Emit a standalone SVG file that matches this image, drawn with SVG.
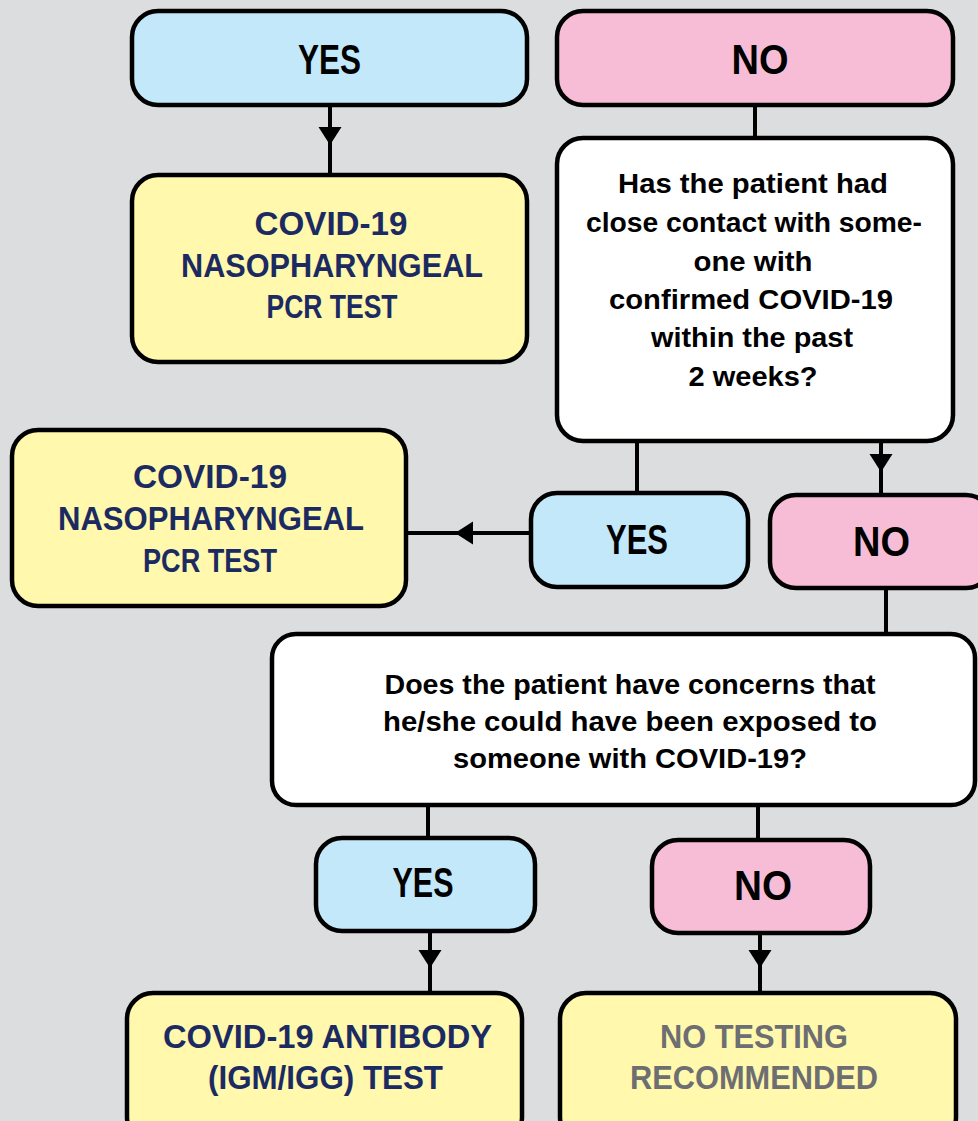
<svg xmlns="http://www.w3.org/2000/svg" width="978" height="1121" viewBox="0 0 978 1121">
<style>
.box{stroke:#000;stroke-width:4.5}
.yes{fill:#c3e8f9}
.no{fill:#f7bdd6}
.res{fill:#fff8ad}
.q{fill:#fff}
.lbl{font-family:"Liberation Sans",Arial,sans-serif;font-weight:bold;font-size:42px;fill:#000;text-anchor:middle}
.qt{font-family:"Liberation Sans",Arial,sans-serif;font-weight:bold;font-size:27px;fill:#000;text-anchor:middle}
.rt{font-family:"Liberation Sans",Arial,sans-serif;font-weight:bold;font-size:33px;fill:#1b2b62;text-anchor:middle}
.gt{fill:#6d6e71}
.ln{stroke:#000;stroke-width:4;fill:none}
</style>
<defs>
<marker id="ah" markerUnits="userSpaceOnUse" markerWidth="20" markerHeight="24" refX="18" refY="12" orient="auto" viewBox="0 0 20 24">
<path d="M0,0.5 L18,12 L0,23.5 z" fill="#000"/>
</marker>
</defs>
<rect width="978" height="1121" fill="#dcdddf"/>

<g id="connectors">
<path class="ln" d="M330,105 L330,145" marker-end="url(#ah)"/>
<path class="ln" d="M330,143 L330,175"/>
<path class="ln" d="M755,105 L755,138"/>
<path class="ln" d="M637,441 L637,493"/>
<path class="ln" d="M881,441 L881,472" marker-end="url(#ah)"/>
<path class="ln" d="M881,470 L881,495"/>
<path class="ln" d="M531,533 L455,533" marker-end="url(#ah)"/>
<path class="ln" d="M457,533 L407,533"/>
<path class="ln" d="M886,588 L886,634"/>
<path class="ln" d="M428,805 L428,838"/>
<path class="ln" d="M758,805 L758,840"/>
<path class="ln" d="M430,931 L430,968" marker-end="url(#ah)"/>
<path class="ln" d="M430,966 L430,993"/>
<path class="ln" d="M760,933 L760,968" marker-end="url(#ah)"/>
<path class="ln" d="M760,966 L760,993"/>
</g>

<g id="yes1">
<rect class="box yes" x="132" y="11" width="395" height="94" rx="26"/>
<text class="lbl" x="329.5" y="74" textLength="63" lengthAdjust="spacingAndGlyphs">YES</text>
</g>
<g id="pcr1">
<rect class="box res" x="132" y="175" width="395" height="187" rx="26"/>
<text class="rt" x="331" y="235" textLength="153" lengthAdjust="spacingAndGlyphs">COVID-19</text>
<text class="rt" x="332" y="277" textLength="302" lengthAdjust="spacingAndGlyphs">NASOPHARYNGEAL</text>
<text class="rt" x="332" y="318" textLength="131" lengthAdjust="spacingAndGlyphs">PCR TEST</text>
</g>
<g id="no1">
<rect class="box no" x="557" y="11" width="396" height="94" rx="26"/>
<text class="lbl" x="760" y="74" textLength="57" lengthAdjust="spacingAndGlyphs">NO</text>
</g>
<g id="q1">
<rect class="box q" x="557" y="138" width="396" height="303" rx="26"/>
<text class="qt" x="753" y="193" textLength="270" lengthAdjust="spacingAndGlyphs">Has the patient had</text>
<text class="qt" x="754" y="232" textLength="336" lengthAdjust="spacingAndGlyphs">close contact with some-</text>
<text class="qt" x="753" y="271" textLength="119" lengthAdjust="spacingAndGlyphs">one with</text>
<text class="qt" x="751" y="309" textLength="284" lengthAdjust="spacingAndGlyphs">confirmed COVID-19</text>
<text class="qt" x="752" y="347" textLength="202" lengthAdjust="spacingAndGlyphs">within the past</text>
<text class="qt" x="753" y="386" textLength="129" lengthAdjust="spacingAndGlyphs">2 weeks?</text>
</g>
<g id="pcr2">
<rect class="box res" x="12" y="430" width="394" height="176" rx="26"/>
<text class="rt" x="210" y="488" textLength="154" lengthAdjust="spacingAndGlyphs">COVID-19</text>
<text class="rt" x="211" y="530" textLength="306" lengthAdjust="spacingAndGlyphs">NASOPHARYNGEAL</text>
<text class="rt" x="210" y="572" textLength="134" lengthAdjust="spacingAndGlyphs">PCR TEST</text>
</g>
<g id="yes2">
<rect class="box yes" x="531" y="493" width="217" height="94" rx="26"/>
<text class="lbl" x="637" y="554" textLength="62" lengthAdjust="spacingAndGlyphs">YES</text>
</g>
<g id="no2">
<rect class="box no" x="770" y="495" width="222" height="93" rx="26"/>
<text class="lbl" x="881.5" y="556" textLength="57" lengthAdjust="spacingAndGlyphs">NO</text>
</g>
<g id="q2">
<rect class="box q" x="272" y="634" width="703" height="171" rx="24"/>
<text class="qt" x="630" y="694" textLength="491" lengthAdjust="spacingAndGlyphs">Does the patient have concerns that</text>
<text class="qt" x="630" y="731" textLength="494" lengthAdjust="spacingAndGlyphs">he/she could have been exposed to</text>
<text class="qt" x="630" y="768" textLength="354" lengthAdjust="spacingAndGlyphs">someone with COVID-19?</text>
</g>
<g id="yes3">
<rect class="box yes" x="316" y="838" width="219" height="93" rx="26"/>
<text class="lbl" x="423" y="897" textLength="61" lengthAdjust="spacingAndGlyphs">YES</text>
</g>
<g id="no3">
<rect class="box no" x="652" y="840" width="218" height="93" rx="26"/>
<text class="lbl" x="763" y="900" textLength="58" lengthAdjust="spacingAndGlyphs">NO</text>
</g>
<g id="antibody">
<rect class="box res" x="127" y="993" width="395" height="150" rx="26"/>
<text class="rt" x="327.5" y="1048" textLength="329" lengthAdjust="spacingAndGlyphs">COVID-19 ANTIBODY</text>
<text class="rt" x="325.5" y="1089" textLength="235" lengthAdjust="spacingAndGlyphs">(IGM/IGG) TEST</text>
</g>
<g id="notesting">
<rect class="box res" x="560" y="993" width="396" height="150" rx="26"/>
<text class="rt gt" x="754" y="1048" textLength="188" lengthAdjust="spacingAndGlyphs">NO TESTING</text>
<text class="rt gt" x="754" y="1089" textLength="248" lengthAdjust="spacingAndGlyphs">RECOMMENDED</text>
</g>
</svg>
